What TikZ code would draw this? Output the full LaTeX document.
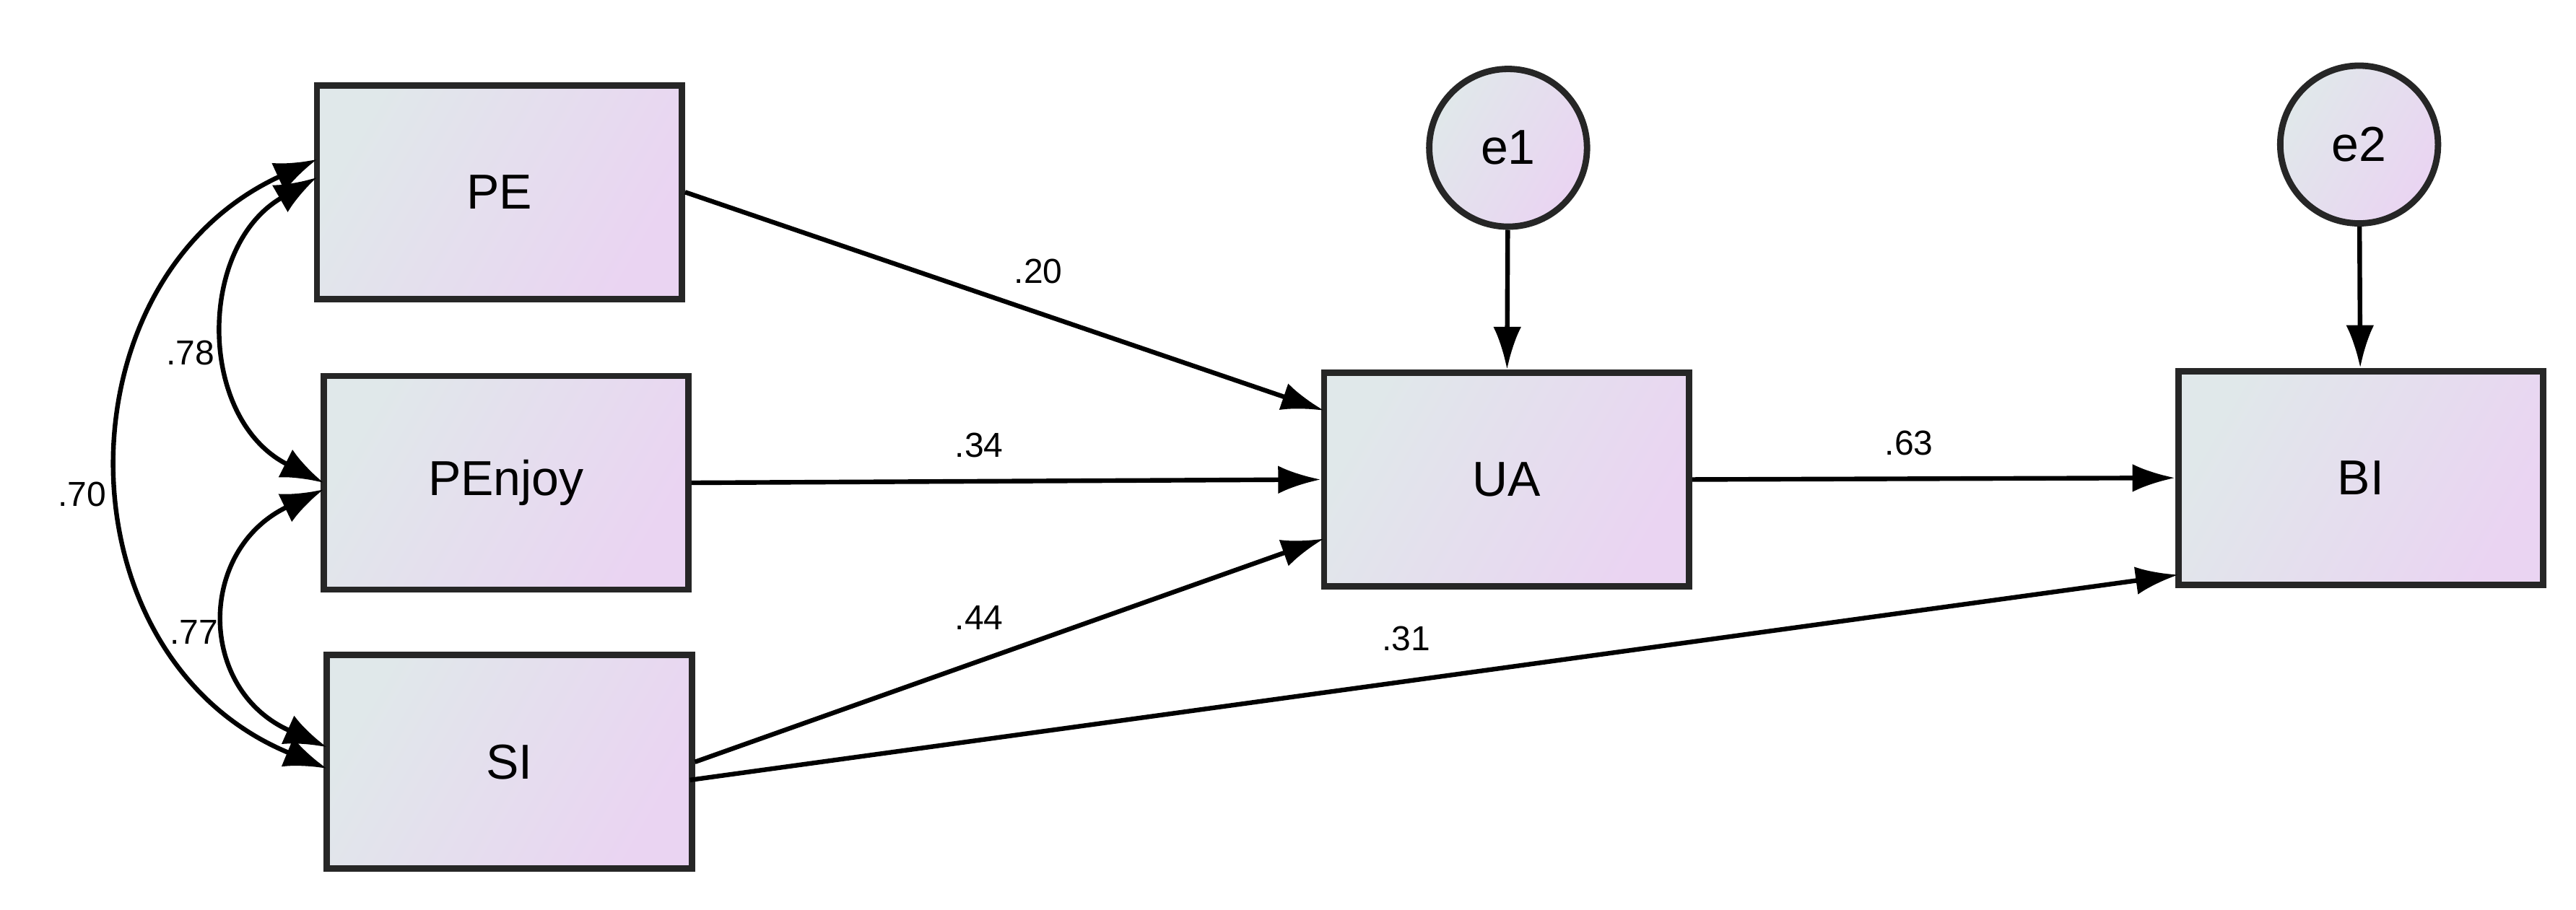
\documentclass[tikz,border=0pt]{standalone}
\usepackage{fontspec}
\setmainfont{Liberation Sans}
\usetikzlibrary{arrows.meta}
\definecolor{cA}{RGB}{224,232,234}
\definecolor{cB}{RGB}{234,212,242}
\begin{document}
\begin{tikzpicture}[x=0.01cm,y=-0.01cm,
  box/.style={draw=black!85,line width=1.1pt,left color=cB,right color=cA,shading angle=-120,minimum width=2.22cm,minimum height=1.3cm,font=\fontsize{8.5}{9}\selectfont,inner sep=0pt},
  err/.style={circle,draw=black!85,line width=1.1pt,left color=cB,right color=cA,shading angle=-120,minimum size=0.96cm,font=\fontsize{8.5}{9}\selectfont,inner sep=0pt},
  arr/.style={line width=0.8pt,-{Latex[length=0.26cm,width=0.17cm]}},
  darr/.style={line width=0.8pt,{Latex[length=0.26cm,width=0.19cm]}-{Latex[length=0.26cm,width=0.19cm]}},
  lab/.style={font=\fontsize{6}{7}\selectfont,inner sep=1pt}]
\useasboundingbox (0,0) rectangle (1568,554);
\node[box] (PE) at (304,117) {PE};
\node[box] (PEn) at (308,294) {PEnjoy};
\node[box] (SI) at (310,464) {SI};
\node[box] (UA) at (917,292) {UA};
\node[box] (BI) at (1437,291) {BI};
\node[err] (e1) at (918,90) {e1};
\node[err] (e2) at (1436,88) {e2};
\coordinate (pe1) at (193,108);
\coordinate (pe2) at (193,97);
\coordinate (pn1) at (197,294);
\coordinate (pn2) at (197,298);
\coordinate (si1) at (199,455);
\coordinate (si2) at (199,468);
\coordinate (ua1) at (806,250);
\coordinate (ua3) at (806,328);
\coordinate (si3) at (420,475);
\coordinate (bi2) at (1326,350);
\draw[arr] (PE.east) -- (ua1);
\draw[arr] (PEn.east) -- (UA.west);
\draw[arr] (SI.east) -- (ua3);
\draw[arr] (si3) -- (bi2);
\draw[arr] (UA.east) -- (BI.west);
\draw[arr] (e1) -- (UA);
\draw[arr] (e2) -- (BI);
\draw[darr] (pe1) .. controls (120,150) and (120,255) .. (pn1);
\draw[darr] (pn2) .. controls (120,335) and (120,420) .. (si1);
\draw[darr] (pe2) .. controls (34,170) and (34,400) .. (si2);
\node[lab] (l20) at (632,165) {.20};
\node[lab] (l34) at (596,271) {.34};
\node[lab] (l44) at (596,376) {.44};
\node[lab] (l31) at (856,389) {.31};
\node[lab] (l63) at (1162,270) {.63};
\node[lab] (l78) at (116,215) {.78};
\node[lab] (l70) at (50,301) {.70};
\node[lab] (l77) at (118,385) {.77};
\end{tikzpicture}
\end{document}
